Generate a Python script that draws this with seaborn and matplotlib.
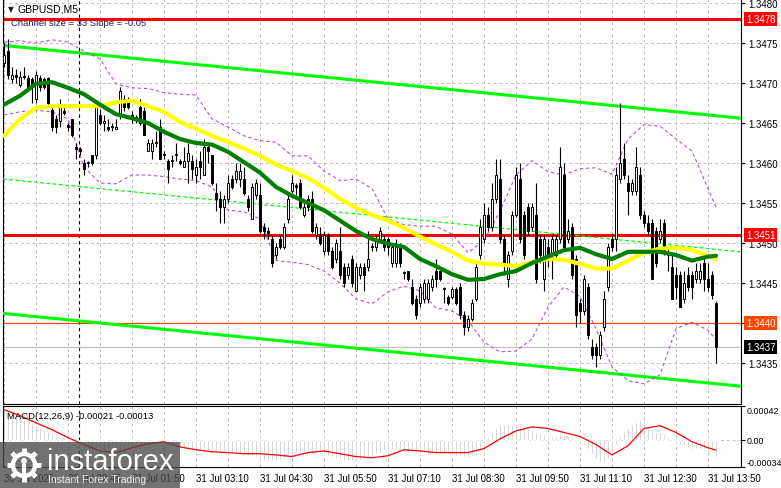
import numpy as np
import pandas as pd
import matplotlib
matplotlib.use("Agg")
import matplotlib.pyplot as plt
import matplotlib.transforms as mtransforms
from matplotlib.patches import Rectangle, Circle
import seaborn as sns

# GBPUSD M5 candles (bar 0 = leftmost)
opens = [1.34725, 1.34740, 1.34705, 1.34710, 1.34698, 1.34708, 1.34706, 1.34705, 1.34680, 1.34706,
         1.34705, 1.34706, 1.34666, 1.34655, 1.34652, 1.34665, 1.34647, 1.34655, 1.34620, 1.34618,
         1.34600, 1.34600, 1.34610, 1.34610, 1.34660, 1.34650, 1.34645, 1.34645, 1.34643, 1.34660,
         1.34680, 1.34680, 1.34660, 1.34658, 1.34670, 1.34665, 1.34615, 1.34615, 1.34625, 1.34645,
         1.34610, 1.34603, 1.34603, 1.34610, 1.34603, 1.34595, 1.34602, 1.34603, 1.34585, 1.34603,
         1.34585, 1.34620, 1.34610, 1.34563, 1.34555, 1.34545, 1.34555, 1.34580, 1.34580, 1.34580,
         1.34580, 1.34555, 1.34530, 1.34560, 1.34560, 1.34520, 1.34515, 1.34505, 1.34485, 1.34505,
         1.34495, 1.34530, 1.34565, 1.34573, 1.34575, 1.34535, 1.34555, 1.34555, 1.34510, 1.34510,
         1.34490, 1.34510, 1.34490, 1.34480, 1.34490, 1.34470, 1.34460, 1.34480, 1.34440, 1.34460,
         1.34470, 1.34470, 1.34495, 1.34495, 1.34505, 1.34505, 1.34505, 1.34475, 1.34475, 1.34495,
         1.34463, 1.34465, 1.34445, 1.34430, 1.34425, 1.34430, 1.34430, 1.34445, 1.34465, 1.34465,
         1.34443, 1.34433, 1.34433, 1.34443, 1.34445, 1.34410, 1.34395, 1.34405, 1.34430, 1.34485,
         1.34505, 1.34535, 1.34520, 1.34555, 1.34580, 1.34505, 1.34455, 1.34490, 1.34535, 1.34580,
         1.34535, 1.34545, 1.34520, 1.34535, 1.34505, 1.34455, 1.34495, 1.34485, 1.34485, 1.34505,
         1.34585, 1.34505, 1.34520, 1.34480, 1.34425, 1.34415, 1.34445, 1.34370, 1.34370, 1.34360,
         1.34395, 1.34445, 1.34505, 1.34505, 1.34580, 1.34605, 1.34575, 1.34565, 1.34565, 1.34585,
         1.34535, 1.34525, 1.34525, 1.34515, 1.34505, 1.34525, 1.34485, 1.34470, 1.34460, 1.34460,
         1.34430, 1.34460, 1.34460, 1.34455, 1.34455, 1.34475, 1.34455, 1.34460, 1.34425]
highs = [1.34750, 1.34755, 1.34720, 1.34718, 1.34715, 1.34720, 1.34710, 1.34708, 1.34715, 1.34710,
         1.34708, 1.34708, 1.34670, 1.34660, 1.34680, 1.34670, 1.34650, 1.34655, 1.34625, 1.34620,
         1.34605, 1.34603, 1.34610, 1.34675, 1.34668, 1.34660, 1.34655, 1.34650, 1.34655, 1.34695,
         1.34685, 1.34683, 1.34665, 1.34660, 1.34680, 1.34670, 1.34630, 1.34630, 1.34640, 1.34655,
         1.34615, 1.34605, 1.34610, 1.34625, 1.34605, 1.34620, 1.34625, 1.34610, 1.34605, 1.34615,
         1.34630, 1.34625, 1.34610, 1.34575, 1.34565, 1.34560, 1.34585, 1.34585, 1.34600, 1.34600,
         1.34595, 1.34560, 1.34575, 1.34580, 1.34575, 1.34525, 1.34520, 1.34510, 1.34500, 1.34510,
         1.34525, 1.34560, 1.34585, 1.34575, 1.34580, 1.34550, 1.34560, 1.34565, 1.34525, 1.34520,
         1.34515, 1.34513, 1.34495, 1.34505, 1.34520, 1.34475, 1.34475, 1.34485, 1.34475, 1.34475,
         1.34475, 1.34515, 1.34500, 1.34510, 1.34520, 1.34510, 1.34508, 1.34500, 1.34505, 1.34500,
         1.34465, 1.34465, 1.34455, 1.34435, 1.34450, 1.34455, 1.34455, 1.34460, 1.34480, 1.34465,
         1.34445, 1.34435, 1.34445, 1.34445, 1.34450, 1.34415, 1.34410, 1.34430, 1.34475, 1.34530,
         1.34550, 1.34545, 1.34575, 1.34605, 1.34605, 1.34510, 1.34490, 1.34540, 1.34595, 1.34600,
         1.34540, 1.34550, 1.34550, 1.34575, 1.34510, 1.34510, 1.34505, 1.34510, 1.34510, 1.34620,
         1.34600, 1.34530, 1.34525, 1.34485, 1.34430, 1.34460, 1.34450, 1.34380, 1.34375, 1.34390,
         1.34440, 1.34500, 1.34510, 1.34595, 1.34675, 1.34625, 1.34585, 1.34580, 1.34620, 1.34595,
         1.34540, 1.34535, 1.34530, 1.34520, 1.34530, 1.34530, 1.34495, 1.34485, 1.34470, 1.34465,
         1.34465, 1.34470, 1.34465, 1.34475, 1.34475, 1.34485, 1.34475, 1.34465, 1.34428]
lows = [1.34720, 1.34705, 1.34700, 1.34700, 1.34695, 1.34705, 1.34692, 1.34675, 1.34675, 1.34690,
        1.34692, 1.34670, 1.34640, 1.34638, 1.34645, 1.34660, 1.34640, 1.34633, 1.34605, 1.34610,
        1.34585, 1.34595, 1.34598, 1.34605, 1.34648, 1.34640, 1.34640, 1.34640, 1.34643, 1.34655,
        1.34665, 1.34668, 1.34650, 1.34650, 1.34648, 1.34635, 1.34615, 1.34605, 1.34620, 1.34605,
        1.34605, 1.34575, 1.34595, 1.34602, 1.34598, 1.34595, 1.34575, 1.34580, 1.34575, 1.34580,
        1.34585, 1.34600, 1.34573, 1.34540, 1.34525, 1.34525, 1.34550, 1.34568, 1.34575, 1.34570,
        1.34560, 1.34540, 1.34530, 1.34555, 1.34513, 1.34505, 1.34505, 1.34470, 1.34480, 1.34493,
        1.34493, 1.34525, 1.34563, 1.34560, 1.34543, 1.34533, 1.34540, 1.34513, 1.34505, 1.34498,
        1.34485, 1.34485, 1.34468, 1.34475, 1.34455, 1.34445, 1.34455, 1.34445, 1.34440, 1.34455,
        1.34440, 1.34465, 1.34490, 1.34490, 1.34500, 1.34490, 1.34485, 1.34470, 1.34470, 1.34470,
        1.34455, 1.34453, 1.34423, 1.34405, 1.34420, 1.34425, 1.34425, 1.34440, 1.34445, 1.34453,
        1.34425, 1.34423, 1.34430, 1.34423, 1.34405, 1.34385, 1.34390, 1.34403, 1.34428, 1.34480,
        1.34500, 1.34515, 1.34515, 1.34550, 1.34500, 1.34460, 1.34445, 1.34485, 1.34533, 1.34500,
        1.34480, 1.34510, 1.34515, 1.34450, 1.34475, 1.34440, 1.34470, 1.34455, 1.34480, 1.34500,
        1.34490, 1.34500, 1.34455, 1.34395, 1.34400, 1.34410, 1.34380, 1.34355, 1.34345, 1.34355,
        1.34390, 1.34440, 1.34490, 1.34490, 1.34575, 1.34580, 1.34535, 1.34560, 1.34560, 1.34530,
        1.34520, 1.34510, 1.34455, 1.34470, 1.34500, 1.34485, 1.34465, 1.34430, 1.34430, 1.34420,
        1.34425, 1.34440, 1.34430, 1.34450, 1.34450, 1.34440, 1.34440, 1.34430, 1.34350]
closes = [1.34735, 1.34710, 1.34710, 1.34708, 1.34708, 1.34709, 1.34695, 1.34695, 1.34710, 1.34695,
          1.34695, 1.34675, 1.34645, 1.34645, 1.34670, 1.34663, 1.34645, 1.34635, 1.34618, 1.34615,
          1.34592, 1.34600, 1.34600, 1.34670, 1.34650, 1.34652, 1.34643, 1.34645, 1.34645, 1.34690,
          1.34670, 1.34670, 1.34658, 1.34656, 1.34650, 1.34635, 1.34625, 1.34625, 1.34625, 1.34605,
          1.34610, 1.34592, 1.34603, 1.34610, 1.34600, 1.34603, 1.34612, 1.34592, 1.34595, 1.34595,
          1.34620, 1.34615, 1.34575, 1.34555, 1.34545, 1.34555, 1.34575, 1.34570, 1.34590, 1.34590,
          1.34563, 1.34545, 1.34570, 1.34575, 1.34515, 1.34515, 1.34513, 1.34475, 1.34495, 1.34495,
          1.34520, 1.34555, 1.34575, 1.34570, 1.34545, 1.34545, 1.34545, 1.34515, 1.34520, 1.34500,
          1.34510, 1.34490, 1.34470, 1.34500, 1.34460, 1.34450, 1.34470, 1.34450, 1.34470, 1.34470,
          1.34460, 1.34480, 1.34495, 1.34505, 1.34515, 1.34495, 1.34495, 1.34495, 1.34495, 1.34475,
          1.34463, 1.34455, 1.34425, 1.34410, 1.34445, 1.34450, 1.34450, 1.34455, 1.34455, 1.34455,
          1.34443, 1.34425, 1.34443, 1.34425, 1.34410, 1.34395, 1.34405, 1.34425, 1.34470, 1.34520,
          1.34535, 1.34520, 1.34555, 1.34585, 1.34505, 1.34475, 1.34485, 1.34535, 1.34585, 1.34505,
          1.34485, 1.34515, 1.34545, 1.34455, 1.34485, 1.34505, 1.34485, 1.34505, 1.34505, 1.34595,
          1.34495, 1.34515, 1.34460, 1.34410, 1.34415, 1.34455, 1.34385, 1.34360, 1.34360, 1.34385,
          1.34430, 1.34495, 1.34495, 1.34585, 1.34600, 1.34585, 1.34565, 1.34575, 1.34595, 1.34535,
          1.34525, 1.34515, 1.34455, 1.34475, 1.34515, 1.34490, 1.34485, 1.34430, 1.34445, 1.34420,
          1.34450, 1.34445, 1.34445, 1.34465, 1.34465, 1.34455, 1.34445, 1.34435, 1.34370]

# indicator lines, read every 4th bar (plus the last bar)
sample_bars = list(range(0, 177, 4)) + [178]
ma_green = [1.34673, 1.34684, 1.34699, 1.34701, 1.34694, 1.34686, 1.34673, 1.34661, 1.34656, 1.34650,
            1.34639, 1.34630, 1.34625, 1.34623, 1.34614, 1.34601, 1.34588, 1.34570, 1.34559, 1.34550,
            1.34541, 1.34528, 1.34515, 1.34505, 1.34499, 1.34495, 1.34480, 1.34471, 1.34461, 1.34454,
            1.34455, 1.34461, 1.34465, 1.34475, 1.34483, 1.34491, 1.34494, 1.34486, 1.34480, 1.34489,
            1.34489, 1.34489, 1.34485, 1.34478, 1.34483, 1.34484]
ma_yellow = [1.34634, 1.34655, 1.34669, 1.34671, 1.34671, 1.34671, 1.34671, 1.34676, 1.34678, 1.34671,
             1.34664, 1.34651, 1.34643, 1.34634, 1.34626, 1.34618, 1.34609, 1.34598, 1.34590, 1.34581,
             1.34569, 1.34555, 1.34544, 1.34535, 1.34528, 1.34519, 1.34508, 1.34498, 1.34489, 1.34478,
             1.34474, 1.34473, 1.34471, 1.34476, 1.34480, 1.34479, 1.34474, 1.34468, 1.34468, 1.34478,
             1.34488, 1.34493, 1.34494, 1.34491, 1.34484, 1.34480]
bb_upper = [1.34751, 1.34753, 1.34750, 1.34754, 1.34751, 1.34740, 1.34730, 1.34699, 1.34694, 1.34693,
            1.34688, 1.34686, 1.34685, 1.34655, 1.34645, 1.34634, 1.34628, 1.34626, 1.34609, 1.34609,
            1.34590, 1.34578, 1.34580, 1.34568, 1.34530, 1.34523, 1.34521, 1.34521, 1.34511, 1.34488,
            1.34503, 1.34540, 1.34585, 1.34603, 1.34589, 1.34585, 1.34593, 1.34594, 1.34586, 1.34630,
            1.34648, 1.34646, 1.34630, 1.34615, 1.34568, 1.34545]
bb_lower = [1.34660, 1.34664, 1.34666, 1.34664, 1.34655, 1.34595, 1.34575, 1.34574, 1.34585, 1.34585,
            1.34583, 1.34580, 1.34578, 1.34570, 1.34541, 1.34539, 1.34530, 1.34478, 1.34476, 1.34473,
            1.34465, 1.34450, 1.34430, 1.34424, 1.34439, 1.34446, 1.34440, 1.34419, 1.34415, 1.34403,
            1.34376, 1.34364, 1.34365, 1.34380, 1.34420, 1.34445, 1.34433, 1.34393, 1.34345, 1.34328,
            1.34324, 1.34335, 1.34393, 1.34401, 1.34391, 1.34379]

# regression channel (left / right edge of the window)
channel_bars = [-0.25, 184.25]
channel_top = [1.34747, 1.34656]
channel_mid = [1.34580, 1.34489]
channel_bot = [1.34412, 1.34321]

red_levels = [1.3478, 1.3451]
orange_level = 1.3440
bid_price = 1.3437

price_ticks = [1.3435, 1.3440, 1.3445, 1.3450, 1.3455, 1.3460, 1.3465, 1.3470, 1.3475, 1.3480]

time_bars = [0, 16, 32, 48, 64, 80, 96, 112, 128, 144, 160, 176]
time_labels = ["30 Jul 2025", "30 Jul 22:45", "31 Jul 01:50", "31 Jul 03:10", "31 Jul 04:30",
               "31 Jul 05:50", "31 Jul 07:10", "31 Jul 08:30", "31 Jul 09:50", "31 Jul 11:10",
               "31 Jul 12:30", "31 Jul 13:50"]

# MACD(12,26,9) main (histogram) per bar and signal every 4th bar
macd_main = [0.00039, 0.00037, 0.00036, 0.00034, 0.00031, 0.00027, 0.00024, 0.00021, 0.00019, 0.00015,
             0.00012, 0.00010, 0.00007, 0.00005, 0.00004, 0.00002, 0.00001, 0.00000,
             -0.00004, -0.00008, -0.00011, -0.00013, -0.00015, -0.00016, -0.00017,
             -0.00018, -0.00018, -0.00017, -0.00016, -0.00015, -0.00014, -0.00012, -0.00011, -0.00010, -0.00009, -0.00008,
             -0.00006, -0.00005, -0.00005, -0.00005, -0.00006, -0.00007, -0.00008, -0.00009, -0.00010, -0.00011,
             -0.00012, -0.00013, -0.00013, -0.00013, -0.00014, -0.00014, -0.00014, -0.00014, -0.00015, -0.00015,
             -0.00015, -0.00016, -0.00016, -0.00017, -0.00018,
             -0.00019, -0.00020, -0.00022, -0.00024, -0.00026, -0.00027, -0.00027, -0.00026, -0.00024, -0.00022,
             -0.00020, -0.00018, -0.00016, -0.00015, -0.00015, -0.00015, -0.00016, -0.00017, -0.00018, -0.00019,
             -0.00020, -0.00022, -0.00024, -0.00025, -0.00026, -0.00027, -0.00027, -0.00026, -0.00025, -0.00024,
             -0.00022, -0.00020,
             -0.00018, -0.00016, -0.00014, -0.00013, -0.00013, -0.00013, -0.00014, -0.00015, -0.00016, -0.00017,
             -0.00018,
             -0.00018, -0.00018, -0.00017, -0.00017, -0.00016, -0.00016, -0.00017, -0.00018, -0.00019, -0.00020,
             -0.00020, -0.00021,
             -0.00021, -0.00020, -0.00017, -0.00012, -0.00005,
             0.00004, 0.00008, 0.00014, 0.00018, 0.00020, 0.00019, 0.00018, 0.00020, 0.00018, 0.00015,
             0.00013, 0.00011, 0.00008, 0.00007, 0.00006, 0.00005, 0.00005, 0.00005, 0.00007, 0.00006,
             0.00005, 0.00003, -0.00001, -0.00005, -0.00007, -0.00012, -0.00018, -0.00024, -0.00028, -0.00029,
             -0.00024, -0.00015, -0.00006, 0.00005, 0.00010, 0.00014, 0.00019, 0.00022, 0.00024, 0.00022,
             0.00017, 0.00013, 0.00010, 0.00009, 0.00007, 0.00004, 0.00001, -0.00003, -0.00006, -0.00008,
             -0.00010, -0.00011, -0.00012, -0.00012, -0.00012, -0.00013, -0.00014, -0.00021]
macd_signal = [0.000375, 0.000300, 0.000210, 0.000125, 0.000025, -0.000060, -0.000140, -0.000160, -0.000100, -0.000050,
               -0.000025, -0.000090, -0.000125, -0.000150, -0.000160, -0.000175, -0.000175, -0.000190, -0.000210, -0.000160,
               -0.000140, -0.000175, -0.000210, -0.000225, -0.000200, -0.000125, -0.000140, -0.000160, -0.000160, -0.000160,
               -0.000110, 0.000010, 0.000110, 0.000160, 0.000140, 0.000090, 0.000040, -0.000060, -0.000190, -0.000075,
               0.000140, 0.000175, 0.000090, -0.000025, -0.000100, -0.000130]

n = len(opens)
assert len(highs) == n and len(lows) == n and len(closes) == n and len(macd_main) == n
assert len(ma_green) == len(sample_bars) == len(ma_yellow) == len(bb_upper) == len(bb_lower) == len(macd_signal)

df = pd.DataFrame({"bar": np.arange(n), "open": opens, "high": highs, "low": lows, "close": closes})
df["up"] = df["close"] >= df["open"]
df["body_low"] = df[["open", "close"]].min(axis=1)
df["body_h"] = (df["close"] - df["open"]).abs().clip(lower=0.000012)

sns.set_theme(style="white")
plt.rcParams["font.family"] = ["Liberation Sans", "DejaVu Sans"]

W, H = 781, 489
fig = plt.figure(figsize=(W / 100, H / 100), dpi=100)
fig.patch.set_facecolor("white")

ax = fig.add_axes([3 / W, 84 / H, 738 / W, 405 / H])
ax2 = fig.add_axes([3 / W, 21 / H, 738 / W, 61 / H])

xlim = (-0.25, 184.25)
grid_bars = list(range(0, 184, 8))
dash = (0, (3, 3))

# ---- main price panel ----
for a in (ax, ax2):
    a.set_facecolor("white")
    a.set_xlim(*xlim)
    for v in grid_bars:
        a.axvline(v, color="#C0C0C0", lw=0.7, ls=dash, zorder=0)
    a.axvline(18.75, color="black", lw=0.8, ls=dash, zorder=1)

for p in price_ticks:
    ax.axhline(p, color="#C0C0C0", lw=0.7, ls=dash, zorder=0)

for p in red_levels:
    ax.axhline(p, color="#FF0000", lw=2.2, zorder=2)
ax.axhline(orange_level, color="#FF4500", lw=0.9, zorder=2)
ax.axhline(bid_price, color="#C0C0C0", lw=0.9, zorder=2)

sns.lineplot(x=channel_bars, y=channel_top, ax=ax, color="#00FF00", lw=2.2, legend=False, zorder=3)
sns.lineplot(x=channel_bars, y=channel_bot, ax=ax, color="#00FF00", lw=2.2, legend=False, zorder=3)
sns.lineplot(x=channel_bars, y=channel_mid, ax=ax, color="#00FF00", lw=0.9, ls=(0, (3, 2)), legend=False, zorder=3)

sns.lineplot(x=sample_bars, y=bb_upper, ax=ax, color="#B44FE0", lw=0.8, ls=(0, (3, 2.5)), legend=False, zorder=4)
sns.lineplot(x=sample_bars, y=bb_lower, ax=ax, color="#B44FE0", lw=0.8, ls=(0, (3, 2.5)), legend=False, zorder=4)

ax.vlines(df["bar"], df["low"], df["high"], color="black", lw=0.8, zorder=5)
ax.bar(df["bar"], df["body_h"], bottom=df["body_low"], width=0.72,
       color=np.where(df["up"], "white", "black"), edgecolor="black", linewidth=0.7, zorder=6)

sns.lineplot(x=sample_bars, y=ma_yellow, ax=ax, color="#FFFF00", lw=3.0, legend=False, zorder=7)
sns.lineplot(x=sample_bars, y=ma_green, ax=ax, color="#008000", lw=3.0, legend=False, zorder=8)

ax.set_ylim(1.3429875, 1.34805)
ax.set_xticks(grid_bars)
ax.tick_params(axis="x", length=0, labelbottom=False)
ax.yaxis.tick_right()
ax.set_yticks(price_ticks)
# the 1.3440 tick sits under the orange level box
ax.set_yticklabels(["" if p == orange_level else f"{p:.4f}" for p in price_ticks])
ax.tick_params(axis="y", direction="out", length=3, width=0.8, pad=2, labelsize=7, colors="black")
ax.set_xlabel("")
ax.set_ylabel("")
ax.spines["top"].set_visible(False)
for s in ("left", "right", "bottom"):
    ax.spines[s].set_color("black")
    ax.spines[s].set_linewidth(0.8)

blend = mtransforms.blended_transform_factory(ax.transAxes, ax.transData)
for p, c in [(1.3478, "#FF0000"), (1.3451, "#FF0000"), (1.3440, "#FF4500"), (1.3437, "black")]:
    ax.text(1.0 + 5 / 738, p, f"{p:.4f}", transform=blend, ha="left", va="center", fontsize=7,
            color="white", clip_on=False, zorder=10,
            bbox=dict(boxstyle="square,pad=0.18", fc=c, ec="none"))

# ---- MACD panel ----
ax2.axhline(0, color="#C0C0C0", lw=0.7, ls=dash, zorder=0)
ax2.bar(np.arange(n), macd_main, width=0.6, color="#C0C0C0", zorder=2)
sns.lineplot(x=sample_bars, y=macd_signal, ax=ax2, color="#FF0000", lw=0.9, legend=False, zorder=3)
ax2.set_ylim(-0.00034, 0.00042)
ax2.yaxis.tick_right()
ax2.set_yticks([-0.00034, 0.0, 0.00042])
ax2.set_yticklabels(["-0.00034", "0.00", "0.00042"])
ax2.tick_params(axis="y", direction="out", length=3, width=0.8, pad=1, labelsize=6.4, colors="black")
ylabs = ax2.get_yticklabels()
ylabs[0].set_va("bottom")
ylabs[2].set_va("top")
ax2.set_xticks(grid_bars)
lab_map = dict(zip(time_bars, time_labels))
ax2.set_xticklabels([lab_map.get(b, "") for b in grid_bars], ha="left")
ax2.tick_params(axis="x", direction="out", length=3, width=0.8, pad=1, labelsize=7, colors="black")
ax2.set_xlabel("")
ax2.set_ylabel("")
for s in ax2.spines.values():
    s.set_color("black")
    s.set_linewidth(0.8)

# ---- texts ----
fig.text(8 / W, 1 - 10 / H, "\u25BC", fontsize=5.5, va="center", ha="left", family=["DejaVu Sans"])
fig.text(18 / W, 1 - 10 / H, "GBPUSD,M5", fontsize=7.5, va="center", ha="left", color="black")
fig.text(11 / W, 1 - 24 / H, "Channel size = 33 Slope = -0.05", fontsize=6.8, va="center", ha="left",
         color="#1c1c5a")
fig.text(7 / W, 1 - 417 / H, "MACD(12,26,9) -0.00021 -0.00013", fontsize=6.8, va="center", ha="left",
         color="black")

# ---- watermark ----
lg = fig.add_axes([0, 0, 180 / W, 46 / H])
lg.set_xlim(0, 180)
lg.set_ylim(0, 46)
lg.axis("off")
lg.patch.set_alpha(0)
lg.add_patch(Rectangle((0, 0), 180, 46, fc="#4a4a4a", ec="none", alpha=0.78))
lg.add_patch(Circle((24, 23), 11, fill=False, ec="white", lw=3.2))
for ang in np.deg2rad(np.arange(0, 360, 45)):
    lg.plot([24 + 11 * np.cos(ang), 24 + 17 * np.cos(ang)],
            [23 + 11 * np.sin(ang), 23 + 17 * np.sin(ang)], color="white", lw=3.5, solid_capstyle="butt")
lg.add_patch(Circle((24, 27), 3, fc="white", ec="none"))
lg.plot([24, 24], [15, 23], color="white", lw=3)
lg.text(47, 27, "instaforex", fontsize=21, color="white", va="center", ha="left")
lg.text(48, 9, "Instant Forex Trading", fontsize=7.5, color="#f0f0f0", va="center", ha="left")

fig.savefig("out.png", dpi=100)
